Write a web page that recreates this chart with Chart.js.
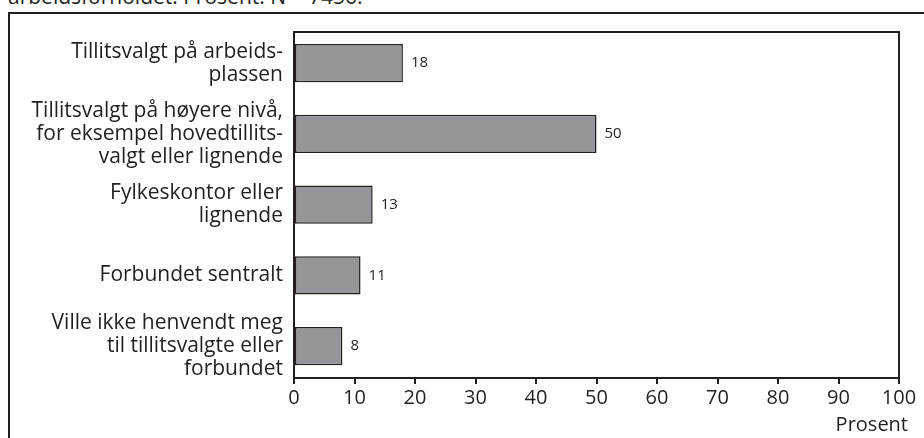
<!DOCTYPE html>
<html><head><meta charset="utf-8">
<script src="https://cdn.jsdelivr.net/npm/chart.js@4/dist/chart.umd.min.js"></script>
<style>
html,body{margin:0;padding:0;width:924px;height:438px;overflow:hidden;background:#fff;}
#title{position:absolute;left:8px;top:-14px;font:21px/1 "Open Sans",sans-serif;color:#231f20;white-space:nowrap;}
#box{position:absolute;left:8px;top:12px;width:2000px;height:2000px;border:2px solid #231f20;}
#c{position:absolute;left:0;top:0;}
</style></head><body>
<div id="title">arbeidsforholdet. Prosent. N = 7456.</div>
<div id="box"></div>
<canvas id="c" width="924" height="438"></canvas>
<script>
const categories = [
  ["Tillitsvalgt på arbeids-", "plassen"],
  ["Tillitsvalgt på høyere nivå,", "for eksempel hovedtillits-", "valgt eller lignende"],
  ["Fylkeskontor eller", "lignende"],
  "Forbundet sentralt",
  ["Ville ikke henvendt meg", "til tillitsvalgte eller", "forbundet"]
];
const values = [18, 50, 13, 11, 8];
const xTicks = [0, 10, 20, 30, 40, 50, 60, 70, 80, 90, 100];
const axisTitle = "Prosent";

const INK = '#231f20';
const FONT = '"Open Sans", sans-serif';

const framePlugin = {
  id: 'frame',
  afterDraw(chart) {
    const {ctx, chartArea: a} = chart;
    ctx.save();
    ctx.strokeStyle = INK;
    ctx.lineWidth = 2;
    ctx.beginPath();
    ctx.moveTo(a.left - 1, a.top);
    ctx.lineTo(a.right, a.top);
    ctx.lineTo(a.right, a.bottom);
    ctx.stroke();
    ctx.fillStyle = INK;
    ctx.font = '20px ' + FONT;
    ctx.textAlign = 'right';
    ctx.textBaseline = 'middle';
    ctx.fillText(axisTitle, a.right + 9, 425);
    ctx.restore();
  }
};

const valueLabels = {
  id: 'valueLabels',
  afterDatasetsDraw(chart) {
    const {ctx} = chart;
    const meta = chart.getDatasetMeta(0);
    const data = chart.data.datasets[0].data;
    ctx.save();
    ctx.fillStyle = INK;
    ctx.font = '15px ' + FONT;
    ctx.textAlign = 'left';
    ctx.textBaseline = 'middle';
    meta.data.forEach((bar, i) => {
      ctx.fillText(String(data[i]), bar.x + 8, bar.y);
    });
    ctx.restore();
  }
};

// category band: first category centre slightly nearer the top edge than a plain offset scale
const Y_START = -0.44, Y_RANGE = 4.89;

new Chart(document.getElementById('c'), {
  type: 'bar',
  data: {
    labels: categories,
    datasets: [{
      data: values,
      backgroundColor: '#939598',
      borderColor: INK,
      borderWidth: 1.5,
      borderSkipped: false,
      categoryPercentage: 1,
      barPercentage: 0.54
    }]
  },
  options: {
    indexAxis: 'y',
    responsive: false,
    animation: false,
    devicePixelRatio: 1,
    layout: { padding: { left: 0, top: 32, right: 25, bottom: 0 } },
    plugins: { legend: { display: false }, tooltip: { enabled: false }, title: { display: false } },
    scales: {
      x: {
        min: 0, max: 100,
        afterBuildTicks: (s) => { s.ticks = xTicks.map(v => ({ value: v })); },
        afterFit: (s) => { s.height = 60; s.paddingLeft = 0; s.paddingRight = 0; },
        grid: { display: true, drawOnChartArea: false, drawTicks: true, tickLength: 6, color: INK, lineWidth: 2 },
        border: { display: true, color: INK, width: 2 },
        ticks: { color: INK, font: { family: FONT, size: 20 }, padding: 2, maxRotation: 0, autoSkip: false }
      },
      y: {
        offset: false,
        afterBuildTicks: (s) => {
          s.ticks = categories.map((c, i) => ({ value: i }));
          s._startValue = Y_START;
          s._valueRange = Y_RANGE;
        },
        afterFit: (s) => { s.width = 294; s.paddingTop = 0; s.paddingBottom = 0; },
        grid: { display: false, drawTicks: false },
        border: { display: true, color: INK, width: 2 },
        ticks: { color: INK, font: { family: FONT, size: 21, lineHeight: 1.1 }, padding: 11, autoSkip: false }
      }
    }
  },
  plugins: [framePlugin, valueLabels]
});
</script>
</body></html>
